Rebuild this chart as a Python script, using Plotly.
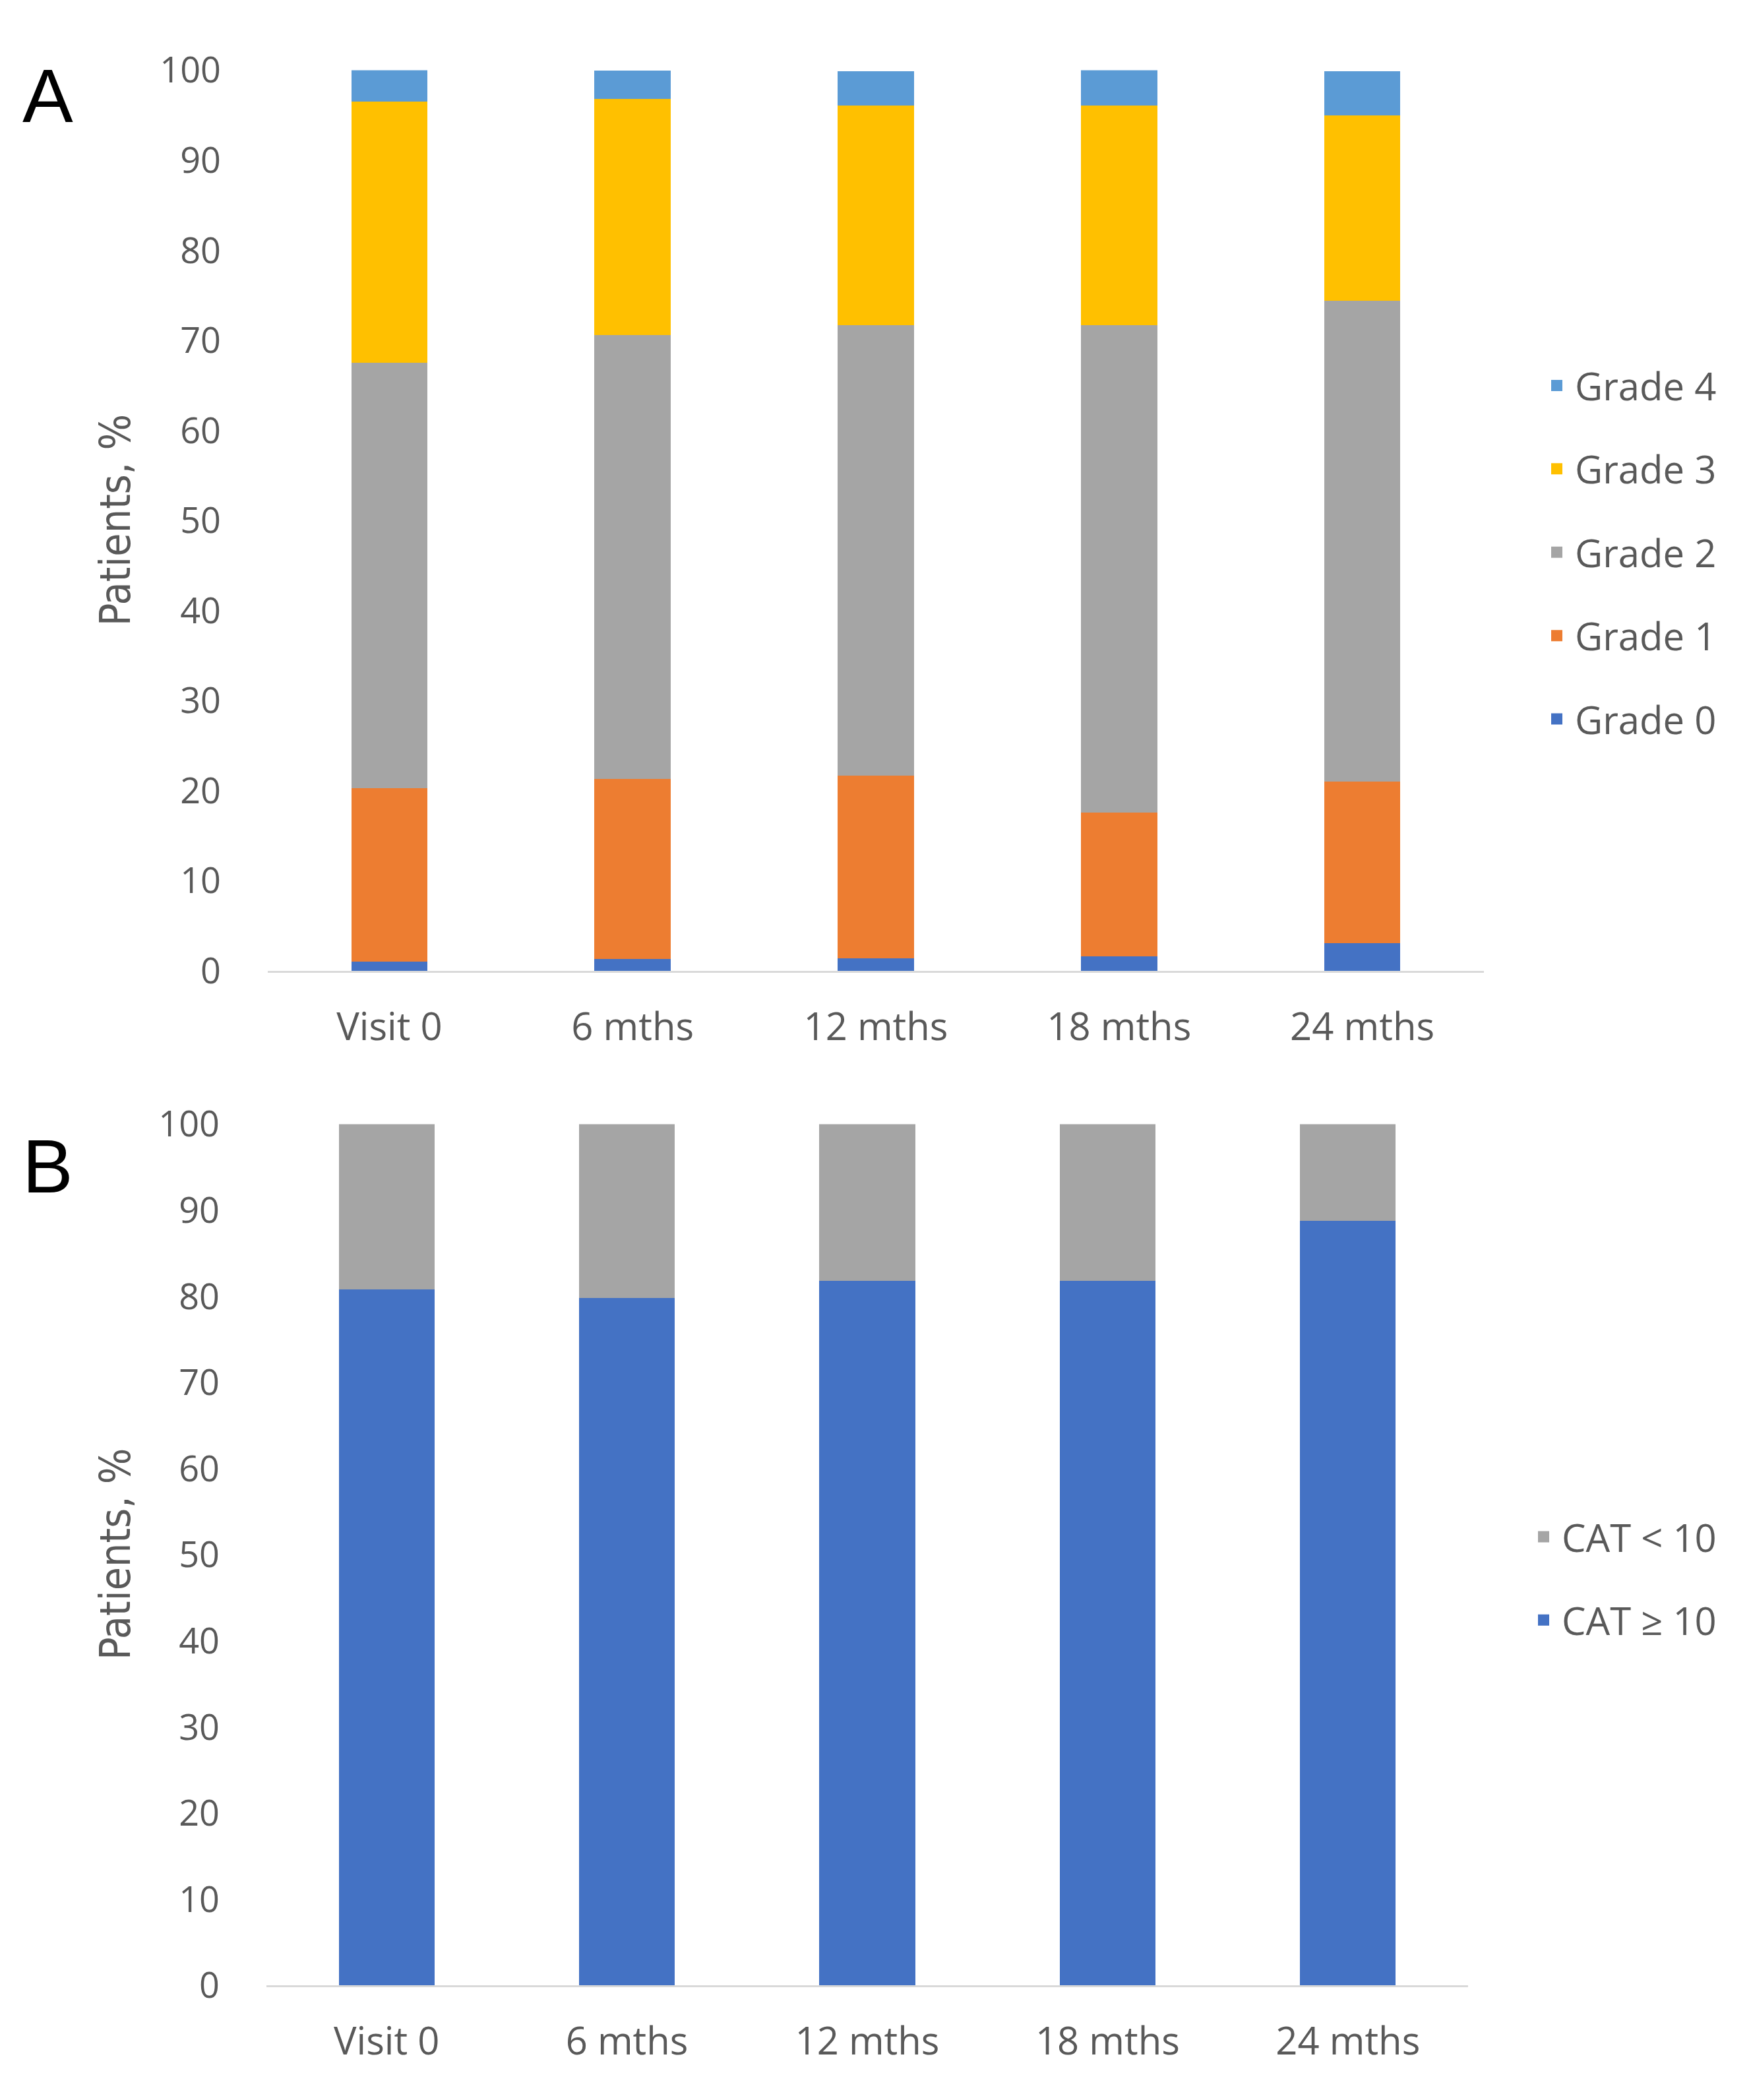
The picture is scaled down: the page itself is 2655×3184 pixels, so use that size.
import plotly.graph_objects as go

visits = ["Visit 0", "6 mths", "12 mths", "18 mths", "24 mths"]

grade0 = [1.2, 1.5, 1.6, 1.8, 3.3]
grade1 = [19.3, 20.0, 20.3, 16.0, 17.9]
grade2 = [47.2, 49.3, 50.0, 54.1, 53.4]
grade3 = [29.0, 26.2, 24.4, 24.4, 20.6]
grade4 = [3.3, 2.8, 3.4, 3.7, 4.5]

cat_ge10 = [81, 80, 82, 82, 89]
cat_lt10 = [19, 20, 18, 18, 11]

y_ticks = [0, 10, 20, 30, 40, 50, 60, 70, 80, 90, 100]

grade_series = [
    ("Grade 0", grade0, "#4472C4"),
    ("Grade 1", grade1, "#ED7D31"),
    ("Grade 2", grade2, "#A5A5A5"),
    ("Grade 3", grade3, "#FFC000"),
    ("Grade 4", grade4, "#5B9BD5"),
]
cat_series = [
    ("CAT \u2265 10", cat_ge10, "#4472C4"),
    ("CAT < 10", cat_lt10, "#A5A5A5"),
]

BASE_FONT = "Open Sans, DejaVu Sans, sans-serif"
YTICK_FONT = dict(family=BASE_FONT, size=54, color="#595959")
XTICK_FONT = dict(family=BASE_FONT, size=58, color="#595959")
LEGEND_FONT = dict(family=BASE_FONT, size=58, color="#595959")
TITLE_FONT = dict(family="Liberation Sans Narrow, DejaVu Sans Condensed, Roboto, sans-serif",
                  size=64, color="#595959")

fig = go.Figure()
n = len(grade_series)
for i, (name, vals, col) in enumerate(grade_series):
    fig.add_trace(go.Bar(x=visits, y=vals, name=name,
                         marker=dict(color=col, line=dict(width=5, color=col)),
                         width=0.30, xaxis="x", yaxis="y", legend="legend",
                         legendgroup=name, legendrank=n - i))
m = len(cat_series)
for i, (name, vals, col) in enumerate(cat_series):
    fig.add_trace(go.Bar(x=visits, y=vals, name=name,
                         marker=dict(color=col, line=dict(width=5, color=col)),
                         width=0.385, xaxis="x2", yaxis="y2", legend="legend2",
                         legendgroup=name, legendrank=m - i))

W, H = 2655, 3184

xa_common = dict(type="category", showgrid=False, zeroline=False, showline=True,
                 linecolor="#D9D9D9", linewidth=3, ticks="", tickfont=XTICK_FONT,
                 ticklabelstandoff=32, fixedrange=True)
ya_common = dict(range=[0, 100], tickvals=y_ticks, showgrid=False, zeroline=False,
                 showline=False, ticks="", tickfont=YTICK_FONT, ticklabelstandoff=70,
                 fixedrange=True)

fig.update_layout(
    width=W, height=H,
    margin=dict(l=0, r=0, t=0, b=0),
    paper_bgcolor="white", plot_bgcolor="white",
    barmode="stack",
    xaxis=dict(domain=[398 / W, 2242 / W], anchor="y", **xa_common),
    yaxis=dict(domain=[1 - 1459 / H, 1 - 61 / H], anchor="x", **ya_common),
    xaxis2=dict(domain=[396 / W, 2218 / W], anchor="y2", **xa_common),
    yaxis2=dict(domain=[1 - 3034 / H, 1 - 1697 / H], anchor="x2", **ya_common),
    legend=dict(x=2325 / W, y=1 - 505 / H, xanchor="left", yanchor="top",
                traceorder="grouped", tracegroupgap=48, itemwidth=45,
                font=LEGEND_FONT, bgcolor="rgba(0,0,0,0)"),
    legend2=dict(x=2305 / W, y=1 - 2292 / H, xanchor="left", yanchor="top",
                 traceorder="grouped", tracegroupgap=48, itemwidth=45,
                 font=LEGEND_FONT, bgcolor="rgba(0,0,0,0)"),
    showlegend=True,
    annotations=[
        dict(text="Patients, %", x=167 / W, y=1 - 760 / H, xref="paper", yref="paper",
             textangle=-90, showarrow=False, font=TITLE_FONT, xanchor="center", yanchor="middle"),
        dict(text="Patients, %", x=167 / W, y=1 - 2365 / H, xref="paper", yref="paper",
             textangle=-90, showarrow=False, font=TITLE_FONT, xanchor="center", yanchor="middle"),
        dict(text="A", x=24 / W, y=1 - 100 / H, xref="paper", yref="paper", showarrow=False,
             font=dict(family="Liberation Sans, Arial, sans-serif", size=115, color="black"),
             xanchor="left", yanchor="middle"),
        dict(text="B", x=24 / W, y=1 - 1762 / H, xref="paper", yref="paper", showarrow=False,
             font=dict(family="Liberation Sans, Arial, sans-serif", size=115, color="black"),
             xanchor="left", yanchor="middle"),
    ],
)

fig.write_html("out.html")
